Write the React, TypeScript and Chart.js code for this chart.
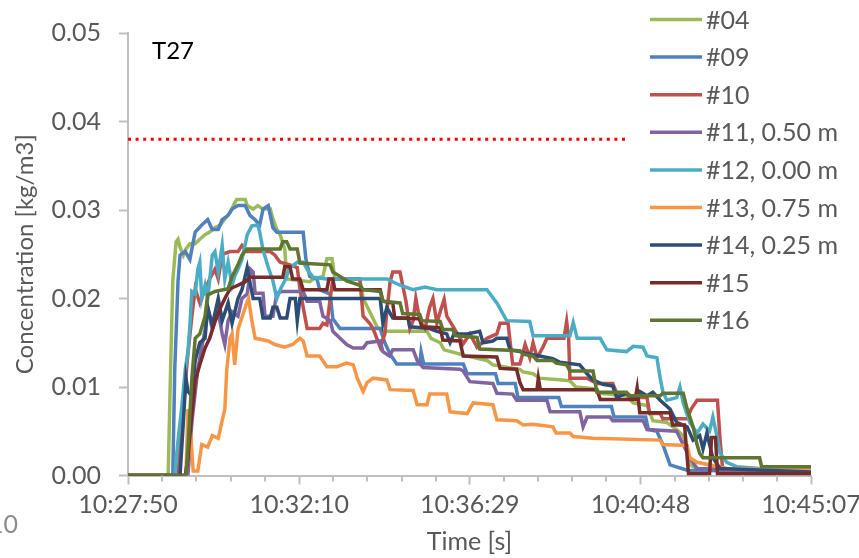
import React, { useEffect, useRef } from "react";
import { Chart, registerables } from "chart.js";

Chart.register(...registerables);

// ---------- DATA ----------
const START_TIME = "10:27:50";
const X_TICK_LABELS = ["10:27:50", "10:32:10", "10:36:29", "10:40:48", "10:45:07"];
const Y_TICKS = [0, 0.01, 0.02, 0.03, 0.04, 0.05];
const LIMIT_VALUE = 0.038;
const LIMIT_END_SECONDS = 757;
const PANEL_LABEL = "T27";

const SERIES_NAMES = ["#04", "#09", "#10", "#11, 0.50 m", "#12, 0.00 m", "#13, 0.75 m", "#14, 0.25 m", "#15", "#16"];
const SERIES_COLORS = ["#9BBB59", "#4F81BD", "#C0504D", "#8064A2", "#4BACC6", "#F79646", "#2C4D75", "#772C2A", "#5F7530"];

// [seconds after 10:27:50, concentration kg/m3]
const S04: [number, number][] = [[0,0],[61,0],[64,0.010],[68,0.022],[73,0.0264],[76,0.0267],[79,0.0258],[84,0.0249],[88,0.0256],[94,0.0262],[102,0.0262],[109,0.0267],[117,0.0272],[124,0.0275],[132,0.028],[140,0.0283],[147,0.029],[155,0.0297],[160,0.0305],[165,0.0312],[178,0.0312],[181,0.0305],[190,0.0301],[197,0.0305],[205,0.0301],[216,0.0301],[220,0.029],[226,0.0278],[231,0.0272],[238,0.0256],[241,0.0222],[276,0.0219],[281,0.0222],[296,0.0225],[302,0.0245],[310,0.0245],[314,0.0222],[352,0.0222],[357,0.02],[367,0.0185],[378,0.0168],[387,0.0163],[454,0.0163],[460,0.0155],[474,0.015],[480,0.0142],[515,0.0135],[545,0.013],[554,0.0125],[595,0.012],[600,0.0117],[615,0.0115],[625,0.011],[671,0.0107],[680,0.01],[706,0.0098],[717,0.0093],[757,0.009],[767,0.0082],[788,0.0079],[797,0.0062],[818,0.006],[833,0.0052],[843,0.0045],[849,0.003],[853,0.0012],[864,0.0008],[1037,0.0006]];
const S09: [number, number][] = [[0,0],[68,0],[71,0.012],[76,0.022],[79,0.0249],[87,0.0253],[94,0.0244],[97,0.0256],[102,0.0275],[112,0.0283],[121,0.0289],[128,0.0278],[137,0.0278],[143,0.0289],[152,0.0294],[158,0.0301],[167,0.0305],[178,0.0305],[185,0.0294],[193,0.0289],[200,0.0283],[205,0.0301],[213,0.0305],[216,0.0294],[220,0.028],[226,0.0275],[266,0.0275],[270,0.0245],[276,0.0225],[287,0.0222],[291,0.021],[307,0.0205],[311,0.0177],[322,0.0166],[383,0.0166],[390,0.015],[398,0.0137],[408,0.0126],[443,0.0126],[445,0.014],[449,0.0126],[509,0.0126],[515,0.0115],[558,0.0115],[562,0.0104],[588,0.0104],[592,0.0088],[654,0.0088],[658,0.0078],[734,0.0078],[738,0.0066],[786,0.0066],[790,0.0052],[803,0.005],[812,0.0035],[823,0.0012],[849,0.0006],[1037,0.0004]];
const S10: [number, number][] = [[0,0],[76,0],[82,0.006],[90,0.013],[97,0.018],[102,0.0211],[109,0.0195],[117,0.021],[124,0.0222],[132,0.0233],[137,0.0222],[143,0.025],[155,0.0253],[167,0.0253],[173,0.026],[181,0.0253],[216,0.0253],[223,0.0249],[231,0.0241],[246,0.0238],[257,0.0235],[261,0.0211],[266,0.019],[272,0.0166],[291,0.0166],[296,0.0172],[302,0.017],[307,0.02],[311,0.0222],[352,0.0222],[357,0.018],[367,0.0172],[372,0.0166],[383,0.0145],[390,0.016],[393,0.0185],[398,0.0219],[402,0.023],[413,0.023],[417,0.0215],[422,0.0197],[428,0.0166],[433,0.0175],[437,0.02],[443,0.0175],[451,0.0166],[458,0.019],[463,0.02],[469,0.0172],[474,0.0185],[480,0.0199],[484,0.018],[493,0.0169],[509,0.0149],[519,0.016],[530,0.0145],[545,0.0155],[560,0.016],[565,0.0172],[577,0.0172],[584,0.0126],[595,0.0126],[603,0.0148],[610,0.0133],[615,0.015],[621,0.0133],[630,0.0145],[636,0.0155],[662,0.0155],[666,0.0174],[669,0.0155],[671,0.011],[697,0.011],[712,0.0104],[736,0.0104],[742,0.0093],[757,0.0093],[762,0.0088],[788,0.0088],[792,0.007],[808,0.007],[812,0.0064],[849,0.0064],[855,0.0075],[864,0.0085],[895,0.0085],[899,0.004],[903,0.0006],[1037,0.0006]];
const S11: [number, number][] = [[0,0],[91,0],[97,0.006],[106,0.012],[117,0.0165],[121,0.019],[128,0.0165],[137,0.0185],[143,0.016],[147,0.0148],[152,0.0175],[158,0.0185],[167,0.018],[173,0.02],[181,0.0205],[186,0.0233],[190,0.023],[193,0.0206],[205,0.0206],[208,0.018],[220,0.018],[226,0.0206],[235,0.0208],[266,0.0208],[272,0.0197],[291,0.0197],[296,0.018],[307,0.0175],[311,0.0163],[322,0.0155],[332,0.0148],[342,0.0144],[357,0.0144],[363,0.015],[383,0.0152],[387,0.014],[397,0.0135],[402,0.0142],[433,0.0142],[439,0.013],[448,0.0122],[504,0.012],[509,0.0118],[519,0.0106],[554,0.0104],[560,0.0093],[584,0.0092],[590,0.0085],[636,0.0085],[641,0.0072],[686,0.0072],[691,0.0055],[697,0.0066],[732,0.0066],[736,0.0062],[782,0.0062],[788,0.0052],[833,0.005],[843,0.0035],[853,0.002],[864,0.0008],[1037,0.0003]];
const S12: [number, number][] = [[0,0],[71,0],[76,0.004],[82,0.008],[87,0.012],[91,0.014],[94,0.017],[97,0.0208],[102,0.0205],[106,0.0233],[109,0.0241],[112,0.02],[117,0.0215],[121,0.02],[128,0.0249],[132,0.0253],[137,0.023],[143,0.026],[147,0.0222],[152,0.0241],[158,0.0215],[162,0.0225],[167,0.0233],[173,0.0244],[181,0.0272],[188,0.0282],[197,0.0283],[200,0.0275],[205,0.0255],[213,0.0235],[220,0.022],[226,0.02],[231,0.021],[238,0.022],[246,0.0235],[257,0.0241],[266,0.0241],[272,0.0233],[281,0.0224],[302,0.0222],[393,0.0222],[413,0.0215],[433,0.021],[451,0.0213],[469,0.021],[545,0.021],[560,0.0195],[575,0.0175],[610,0.0174],[615,0.0158],[671,0.0158],[676,0.0173],[682,0.0155],[717,0.0155],[727,0.0142],[757,0.014],[767,0.0146],[782,0.0145],[788,0.0135],[803,0.0133],[808,0.011],[812,0.0095],[818,0.0085],[833,0.0088],[838,0.01],[843,0.0082],[853,0.006],[864,0.0048],[873,0.0058],[883,0.005],[888,0.0066],[894,0.0045],[899,0.0025],[909,0.0015],[924,0.001],[959,0.0008],[1037,0.0006]];
const S13: [number, number][] = [[0,0],[88,0],[91,0.0075],[94,0.006],[99,0.0005],[106,0.0005],[112,0.0035],[121,0.0032],[128,0.0045],[137,0.0042],[143,0.0062],[147,0.0075],[150,0.012],[155,0.0155],[158,0.016],[162,0.0125],[167,0.0165],[178,0.019],[183,0.02],[188,0.0175],[193,0.0155],[213,0.0152],[223,0.0148],[238,0.0145],[250,0.0148],[261,0.0155],[266,0.0152],[272,0.0135],[291,0.0135],[302,0.0123],[317,0.0123],[332,0.0127],[342,0.0125],[348,0.011],[357,0.0095],[363,0.0105],[372,0.011],[393,0.0108],[398,0.0097],[433,0.0096],[439,0.008],[454,0.008],[458,0.0092],[484,0.0092],[489,0.0072],[515,0.007],[524,0.0082],[554,0.008],[560,0.0063],[590,0.0062],[600,0.0057],[615,0.0058],[645,0.0055],[650,0.0048],[671,0.0048],[676,0.0044],[706,0.0042],[808,0.004],[812,0.0035],[849,0.0034],[853,0.002],[864,0.0015],[909,0.0008],[1037,0.0006]];
const S14: [number, number][] = [[0,0],[79,0],[84,0.006],[88,0.011],[91,0.0095],[97,0.009],[102,0.013],[109,0.015],[117,0.0155],[121,0.019],[128,0.017],[137,0.02],[143,0.0175],[152,0.0195],[158,0.0172],[167,0.02],[173,0.021],[181,0.0235],[186,0.0215],[190,0.02],[200,0.02],[205,0.0178],[216,0.0178],[220,0.019],[226,0.019],[231,0.0178],[241,0.0178],[246,0.02],[254,0.02],[257,0.0175],[261,0.02],[383,0.02],[387,0.0172],[393,0.019],[402,0.0178],[425,0.0178],[428,0.0168],[458,0.0166],[469,0.0163],[484,0.016],[489,0.015],[495,0.016],[515,0.016],[534,0.0163],[539,0.015],[554,0.0152],[560,0.0155],[575,0.0155],[580,0.0142],[595,0.014],[610,0.0137],[625,0.0135],[645,0.0132],[656,0.0128],[686,0.0125],[697,0.0115],[706,0.0108],[721,0.0103],[736,0.0101],[742,0.0088],[757,0.0093],[767,0.0088],[777,0.0095],[788,0.009],[797,0.0094],[808,0.0085],[823,0.0075],[833,0.006],[849,0.0055],[858,0.004],[868,0.0045],[873,0.003],[879,0.0048],[883,0.0035],[888,0.002],[899,0.0008],[1037,0.0004]];
const S15: [number, number][] = [[0,0],[87,0],[91,0.002],[97,0.007],[102,0.0107],[109,0.0125],[117,0.0144],[124,0.0155],[132,0.0174],[140,0.0189],[147,0.02],[155,0.0211],[167,0.0215],[178,0.0219],[185,0.0224],[235,0.0224],[238,0.0236],[246,0.0236],[250,0.0222],[261,0.0222],[266,0.021],[302,0.021],[305,0.0222],[311,0.0222],[314,0.021],[383,0.021],[387,0.0197],[402,0.0195],[405,0.0178],[443,0.0177],[446,0.0168],[474,0.0167],[478,0.0153],[504,0.0152],[509,0.0135],[560,0.0134],[565,0.0121],[590,0.012],[595,0.0105],[600,0.0097],[621,0.0097],[623,0.011],[626,0.0097],[712,0.0097],[717,0.0086],[770,0.0086],[773,0.0099],[777,0.0071],[823,0.0071],[827,0.0057],[845,0.0057],[851,0.0002],[883,0.0002],[886,0.0043],[892,0.0043],[895,0.0002],[1037,0.0002]];
const S16: [number, number][] = [[0,0],[88,0],[91,0.003],[97,0.011],[102,0.0155],[109,0.016],[117,0.018],[121,0.0204],[132,0.0208],[152,0.0211],[158,0.0225],[167,0.0238],[173,0.0249],[181,0.0256],[231,0.0256],[235,0.0264],[241,0.0264],[246,0.0256],[257,0.0256],[261,0.024],[307,0.0238],[311,0.023],[322,0.0225],[332,0.022],[352,0.0215],[357,0.021],[383,0.0208],[387,0.0197],[413,0.0195],[417,0.0183],[443,0.0182],[446,0.0175],[474,0.0174],[478,0.0165],[493,0.0165],[497,0.0158],[530,0.0156],[534,0.0143],[595,0.0141],[600,0.0137],[615,0.0135],[621,0.013],[645,0.013],[650,0.0127],[666,0.0125],[671,0.0118],[706,0.0118],[712,0.0094],[757,0.0094],[762,0.009],[808,0.009],[812,0.0093],[843,0.0093],[849,0.0075],[858,0.0055],[864,0.0035],[868,0.0025],[873,0.002],[959,0.002],[962,0.001],[1037,0.001]];

const SERIES_DATA = [S04, S09, S10, S11, S12, S13, S14, S15, S16];

// ---------- STYLE ----------
const FONT = "Lato, 'Open Sans', sans-serif";
const TEXT_COLOR = "#595959";
const AXIS_COLOR = "#BFBFBF";
const FONT_SIZE = 25;
const TITLE_SIZE = 24;

const toSeconds = (t: string) => {
  const [h, m, s] = t.split(":").map(Number);
  const [h0, m0, s0] = START_TIME.split(":").map(Number);
  return h * 3600 + m * 60 + s - (h0 * 3600 + m0 * 60 + s0);
};
const X_TICK_VALUES = X_TICK_LABELS.map(toSeconds);

const overlayPlugin = {
  id: "overlay",
  afterDraw(chart: any) {
    const ctx = chart.ctx as CanvasRenderingContext2D;
    const xs = chart.scales.x;
    ctx.save();
    // minor ticks on the time axis
    ctx.strokeStyle = AXIS_COLOR;
    ctx.lineWidth = 2;
    for (let i = 0; i < X_TICK_VALUES.length - 1; i++) {
      const a = X_TICK_VALUES[i];
      const b = X_TICK_VALUES[i + 1];
      for (let k = 1; k < 5; k++) {
        const px = Math.round(xs.getPixelForValue(a + ((b - a) * k) / 5));
        ctx.beginPath();
        ctx.moveTo(px, xs.top);
        ctx.lineTo(px, xs.top + 6);
        ctx.stroke();
      }
    }
    // legend
    const ds = chart.data.datasets.filter((d: any) => d.showInLegend);
    ctx.font = `${FONT_SIZE}px ${FONT}`;
    ctx.textBaseline = "middle";
    ctx.textAlign = "left";
    ds.forEach((d: any, i: number) => {
      const y = 19.5 + i * 37.6;
      ctx.strokeStyle = d.borderColor;
      ctx.lineWidth = 3.5;
      ctx.beginPath();
      ctx.moveTo(650, y);
      ctx.lineTo(702, y);
      ctx.stroke();
      ctx.fillStyle = TEXT_COLOR;
      ctx.fillText(d.label, 706, y + 1);
    });
    // panel label
    ctx.font = `${TITLE_SIZE}px ${FONT}`;
    ctx.textAlign = "left";
    ctx.fillStyle = "#000000";
    ctx.fillText(PANEL_LABEL, 152, 51);
    // clipped neighbour label at bottom left
    ctx.font = `${FONT_SIZE}px ${FONT}`;
    ctx.fillStyle = "#8C8C8C";
    ctx.textAlign = "right";
    ctx.fillText("10", 18, 525);
    ctx.restore();
  },
};

export default function App() {
  const ref = useRef<HTMLCanvasElement | null>(null);

  useEffect(() => {
    document.body.style.margin = "0";
    const canvas = ref.current;
    if (!canvas) return;
    const datasets: any[] = SERIES_DATA.map((s, i) => ({
      label: SERIES_NAMES[i],
      data: s.map(([x, y]) => ({ x, y })),
      borderColor: SERIES_COLORS[i],
      backgroundColor: SERIES_COLORS[i],
      borderWidth: 3.5,
      borderJoinStyle: "miter",
      pointRadius: 0,
      tension: 0,
      fill: false,
      order: SERIES_DATA.length - i + 1,
      showInLegend: true,
    }));
    datasets.push({
      label: "limit",
      data: [
        { x: X_TICK_VALUES[0], y: LIMIT_VALUE },
        { x: LIMIT_END_SECONDS, y: LIMIT_VALUE },
      ],
      borderColor: "#FF0000",
      borderWidth: 3,
      borderDash: [3, 4.6],
      borderCapStyle: "butt",
      pointRadius: 0,
      fill: false,
      order: 0,
      showInLegend: false,
    });

    const font = { family: FONT, size: FONT_SIZE };
    const titleFont = { family: FONT, size: TITLE_SIZE + 1 };
    const chart = new Chart(canvas, {
      type: "line",
      data: { datasets },
      options: {
        animation: false,
        responsive: false,
        devicePixelRatio: 1,
        layout: { padding: { top: 29.5, right: 48, left: 0, bottom: 0 } },
        plugins: { legend: { display: false }, tooltip: { enabled: false } },
        scales: {
          x: {
            type: "linear",
            min: X_TICK_VALUES[0],
            max: X_TICK_VALUES[X_TICK_VALUES.length - 1],
            afterBuildTicks: (s: any) => {
              s.ticks = X_TICK_VALUES.map((v) => ({ value: v }));
            },
            afterFit: (s: any) => {
              s.height = 82.5;
              s.paddingLeft = 0;
              s.paddingRight = 0;
            },
            border: { display: true, color: AXIS_COLOR, width: 2 },
            grid: { drawOnChartArea: false, drawTicks: true, tickLength: 9, tickColor: AXIS_COLOR, tickWidth: 2 },
            ticks: {
              autoSkip: false,
              maxRotation: 0,
              padding: 5,
              color: TEXT_COLOR,
              font,
              callback: (_v: any, i: number) => X_TICK_LABELS[i],
            },
            title: { display: true, text: "Time [s]", color: TEXT_COLOR, font: titleFont, padding: { top: 0, bottom: 1 } },
          },
          y: {
            type: "linear",
            min: Y_TICKS[0],
            max: Y_TICKS[Y_TICKS.length - 1],
            afterBuildTicks: (s: any) => {
              s.ticks = Y_TICKS.map((v) => ({ value: v }));
            },
            afterFit: (s: any) => {
              s.width = 128;
            },
            border: { display: true, color: AXIS_COLOR, width: 2 },
            grid: { drawOnChartArea: false, drawTicks: true, tickLength: 9, tickColor: AXIS_COLOR, tickWidth: 2 },
            ticks: {
              padding: 18,
              color: TEXT_COLOR,
              font,
              callback: (v: any) => Number(v).toFixed(2),
            },
            title: { display: true, text: "Concentration [kg/m3]", color: TEXT_COLOR, font: { family: FONT, size: TITLE_SIZE }, padding: { top: 11, bottom: 0 } },
          },
        },
      },
      plugins: [overlayPlugin],
    });
    return () => chart.destroy();
  }, []);

  return (
    <div style={{ position: "absolute", left: 0, top: 0, width: 859, height: 558 }}>
      <canvas ref={ref} width={859} height={558} style={{ display: "block", width: 859, height: 558 }} />
    </div>
  );
}
